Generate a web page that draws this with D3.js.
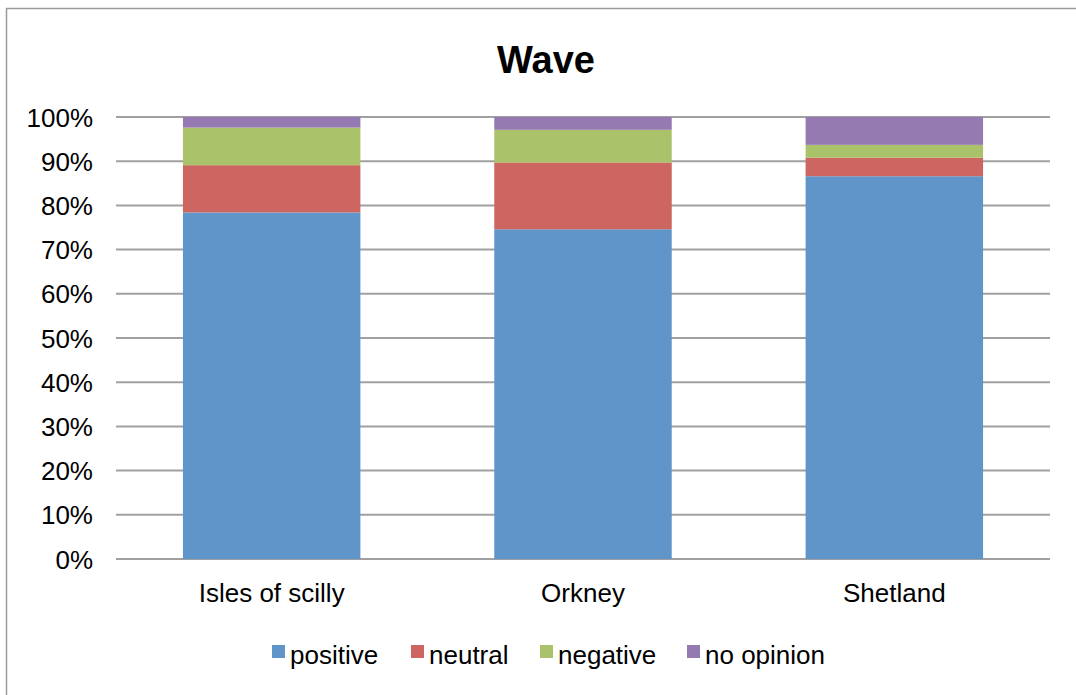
<!DOCTYPE html>
<html><head><meta charset="utf-8">
<script src="https://cdn.jsdelivr.net/npm/d3@7"></script>
<style>body{margin:0;background:#fff}svg{display:block}</style>
</head><body>
<svg id="c" width="1076" height="695"></svg>
<script>
const categories = ["Isles of scilly", "Orkney", "Shetland"];
const seriesNames = ["positive", "neutral", "negative", "no opinion"];
const positive = [78.4, 74.6, 86.6];
const neutral = [10.7, 15.1, 4.2];
const negative = [8.5, 7.4, 2.9];
const noOpinion = [2.4, 2.9, 6.3];
const tickValues = [0, 10, 20, 30, 40, 50, 60, 70, 80, 90, 100];
const colors = ["#5f95c9", "#cd6660", "#aac36b", "#947ab1"];

const seriesValues = [positive, neutral, negative, noOpinion];
const rows = categories.map((c, i) => {
  const r = {cat: c};
  seriesNames.forEach((s, j) => r[s] = seriesValues[j][i]);
  return r;
});
const stack = d3.stack().keys(seriesNames).offset(d3.stackOffsetExpand);
const layers = stack(rows);

const svg = d3.select("#c");
const font = "'Liberation Sans', Arial, sans-serif";
svg.append("rect").attr("x", 6.5).attr("y", 8.5).attr("width", 1100).attr("height", 700)
  .attr("fill", "#fff").attr("stroke", "#9a9a9a").attr("stroke-width", 1.5);

const L = 116, R = 1050, T = 117, B = 559;
const x = d3.scaleBand().domain(categories).range([L, R]).paddingInner(0.43).paddingOuter(0.215);
const y = d3.scaleLinear().domain([0, 1]).range([B, T]);

svg.append("g").selectAll("line").data(tickValues).join("line")
  .attr("x1", L).attr("x2", R)
  .attr("y1", d => y(d / 100)).attr("y2", d => y(d / 100))
  .attr("stroke", "#a0a0a0").attr("stroke-width", 2);

svg.append("g").selectAll("g").data(layers).join("g")
  .attr("fill", (d, i) => colors[i])
  .selectAll("rect").data(d => d).join("rect")
  .attr("x", d => x(d.data.cat))
  .attr("width", x.bandwidth())
  .attr("y", d => y(d[1]))
  .attr("height", d => y(d[0]) - y(d[1]));

const yAxis = d3.axisLeft(y).tickValues(tickValues.map(v => v / 100))
  .tickFormat(d => Math.round(d * 100) + "%").tickSize(0).tickPadding(0);
const ya = svg.append("g").attr("transform", `translate(93,0)`).call(yAxis);
ya.select(".domain").remove();
ya.selectAll("text").attr("font-family", font).attr("font-size", 26).attr("fill", "#000").attr("dy", "0.35em");

const xAxis = d3.axisBottom(x).tickSize(0).tickPadding(0);
const xa = svg.append("g").attr("transform", `translate(0,${B + 34})`).call(xAxis);
xa.select(".domain").remove();
xa.selectAll("text").attr("font-family", font).attr("font-size", 26).attr("fill", "#000").attr("dy", "0.35em");

svg.append("text").attr("x", 546).attr("y", 73).attr("text-anchor", "middle")
  .attr("font-family", font).attr("font-size", 38).attr("font-weight", "bold").text("Wave");

const legendX = [272, 411, 540, 687];
const lg = svg.append("g").selectAll("g").data(seriesNames).join("g")
  .attr("transform", (d, i) => `translate(${legendX[i]},0)`);
lg.append("rect").attr("x", 0).attr("y", 645).attr("width", 13).attr("height", 13)
  .attr("fill", (d, i) => colors[i]);
lg.append("text").attr("x", 18).attr("y", 664).attr("font-family", font).attr("font-size", 26)
  .attr("fill", "#000").text(d => d);
</script>
</body></html>
